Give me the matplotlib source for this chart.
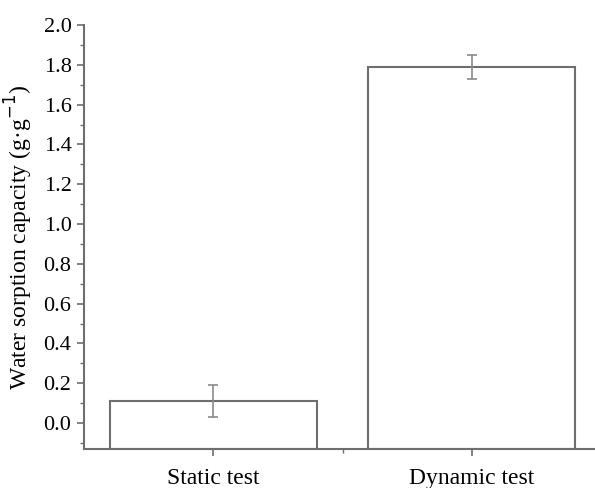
import matplotlib.pyplot as plt
from matplotlib.ticker import MultipleLocator, FixedLocator

plt.rcParams['font.family'] = ['Liberation Serif', 'DejaVu Serif']

# data
categories = ['Static test', 'Dynamic test']
capacity = [0.11, 1.79]
errors = [0.08, 0.06]

gray = '#6e6e6e'
y_bottom = -0.13

fig = plt.figure(figsize=(5.95, 4.88), dpi=100)
# axes extends slightly past the right edge, like the original crop
ax = fig.add_axes([84 / 595, 1 - 449 / 488, (601 - 84) / 595, (449 - 25) / 488])

x = list(range(len(categories)))
# bars are drawn from the bottom of the axis, as in the original
ax.bar(x, [v - y_bottom for v in capacity], bottom=y_bottom, width=0.8,
       color='white', edgecolor=gray, linewidth=1.5)
ax.errorbar(x, capacity, yerr=errors, fmt='none', ecolor='#8a8a8a',
            elinewidth=1.2, capsize=3.5, capthick=1.2)

ax.set_xlim(-0.5, 1.5)
ax.set_ylim(y_bottom, 2.0)
ax.set_xticks(x)
ax.set_xticklabels(categories, fontsize=17)
ax.xaxis.set_minor_locator(FixedLocator([0.5, 1.5]))
ax.yaxis.set_major_locator(MultipleLocator(0.2))
ax.yaxis.set_minor_locator(MultipleLocator(0.1))
ax.yaxis.set_major_formatter(plt.FormatStrFormatter('%.1f'))
ax.tick_params(axis='y', labelsize=16)
ax.tick_params(which='major', length=5, width=1.2, color=gray, direction='out', pad=4)
ax.tick_params(which='minor', length=3, width=1.0, color=gray, direction='out')
ax.tick_params(axis='x', pad=9)

for side in ['top', 'right']:
    ax.spines[side].set_visible(False)
for side in ['left', 'bottom']:
    ax.spines[side].set_color(gray)
    ax.spines[side].set_linewidth(1.5)

ax.set_ylabel('Water sorption capacity (g·g$^{-1}$)', fontsize=17, labelpad=6)

fig.savefig('out.png', dpi=100)
